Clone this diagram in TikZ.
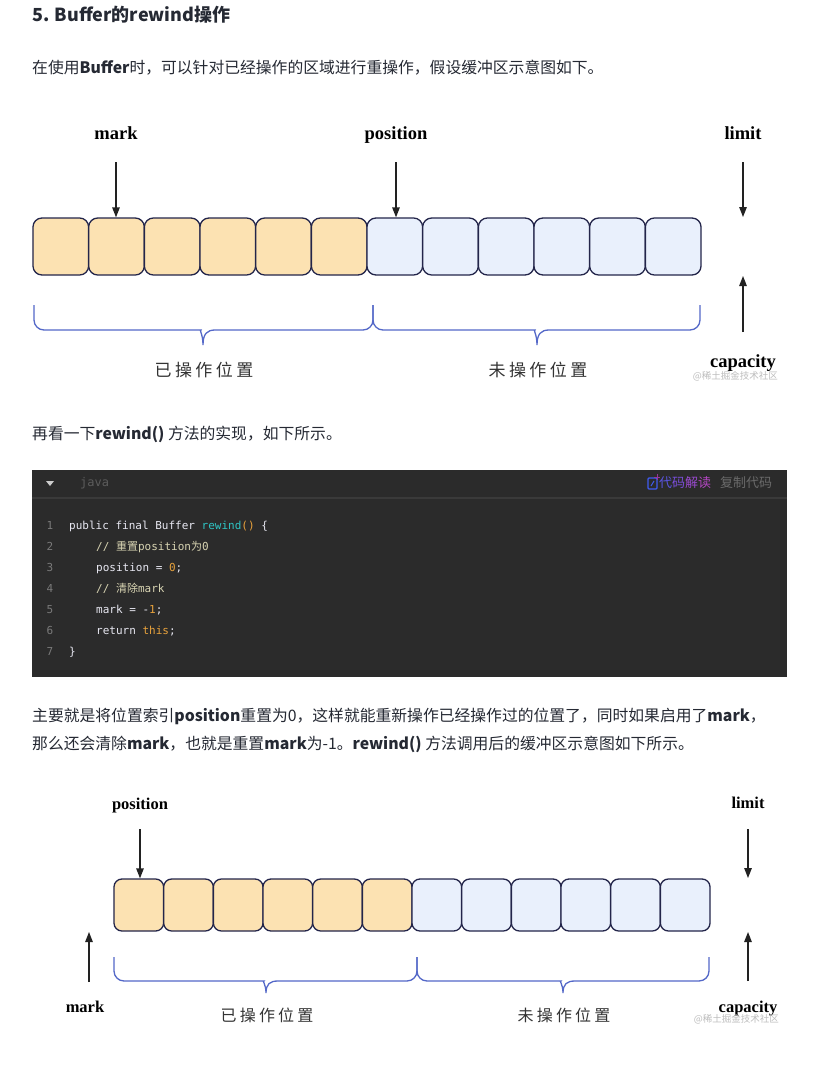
\documentclass[tikz,border=0pt]{standalone}
\usepackage{fontspec}
\setmainfont{Noto Sans CJK SC}
\newfontfamily\cjk{Noto Sans CJK SC}
\newfontfamily\tnr{Liberation Serif}
\newfontfamily\codett{DejaVu Sans Mono}
\newfontfamily\spaced[LetterSpace=20]{Noto Sans CJK SC}
\usetikzlibrary{arrows.meta}

\definecolor{ink}{HTML}{252933}
\definecolor{edge}{HTML}{23254A}
\definecolor{done}{HTML}{FCE2B2}
\definecolor{todo}{HTML}{E9F0FC}
\definecolor{bracec}{HTML}{5468C8}
\definecolor{arrowc}{HTML}{222222}
\definecolor{codebg}{HTML}{2B2B2B}
\definecolor{sepc}{HTML}{3A3A3A}
\definecolor{cTxt}{HTML}{E8E8F2}
\definecolor{cNo}{HTML}{7A7A7A}
\definecolor{cRew}{HTML}{2EC4C4}
\definecolor{cNum}{HTML}{E8A23C}
\definecolor{cCom}{HTML}{D8D4B2}
\definecolor{cHead}{HTML}{5C5C5C}
\definecolor{cCopy}{HTML}{6B6B6B}
\definecolor{cIcon}{HTML}{3F5BF0}
\definecolor{wm}{HTML}{BDBDBD}

\begin{document}
\begin{tikzpicture}[x=1pt,y=-1pt,
  para/.style={anchor=west,inner sep=0,text=ink,font=\fontsize{15.8}{20}\selectfont},
  cellA/.style={draw=edge,fill=done,rounded corners=9pt,line width=1.3pt,minimum width=55.67pt,minimum height=57pt,inner sep=0},
  cellB/.style={cellA,fill=todo},
  cellC/.style={draw=edge,fill=done,rounded corners=8pt,line width=1.3pt,minimum width=49.67pt,minimum height=52pt,inner sep=0},
  cellD/.style={cellC,fill=todo},
  tag/.style={anchor=base,inner sep=0,font=\tnr\bfseries\fontsize{18.5}{20}\selectfont},
  tagsm/.style={tag,font=\tnr\bfseries\fontsize{16.5}{18}\selectfont},
  zone/.style={inner sep=0,text=black!80,font=\spaced\fontsize{17}{20}\selectfont},
  zonesm/.style={zone,font=\spaced\fontsize{16}{18}\selectfont},
  ptr/.style={-{Triangle[length=10pt,width=7.5pt]},draw=arrowc,line width=1.3pt},
  bracket/.style={draw=bracec,line width=1.3pt},
  mark-wm/.style={anchor=east,inner sep=0,text=wm,font=\cjk\fontsize{9.5}{10}\selectfont},
  loc/.style={anchor=base west,inner sep=0,text=cTxt,font=\codett\fontsize{11}{13}\selectfont},
  lno/.style={anchor=base,inner sep=0,text=cNo,font=\codett\fontsize{11}{13}\selectfont}]
\useasboundingbox (0,0) rectangle (817,1074);
\fill[white] (0,0) rectangle (817,1074);

% text above the first figure
\node[para,font=\fontsize{18}{22}\selectfont\bfseries] (title) at (32,15) {5. Buffer的rewind操作};
\node[para] (p1) at (32,68) {在使用\textbf{Buffer}时，可以针对已经操作的区域进行重操作，假设缓冲区示意图如下。};

% first figure
\node[cellA] (a1) at (60.8,246.5) {};
\node[cellA] (a2) at (116.5,246.5) {};
\node[cellA] (a3) at (172.2,246.5) {};
\node[cellA] (a4) at (227.8,246.5) {};
\node[cellA] (a5) at (283.5,246.5) {};
\node[cellA] (a6) at (339.2,246.5) {};
\node[cellB] (a7) at (394.8,246.5) {};
\node[cellB] (a8) at (450.5,246.5) {};
\node[cellB] (a9) at (506.2,246.5) {};
\node[cellB] (a10) at (561.8,246.5) {};
\node[cellB] (a11) at (617.5,246.5) {};
\node[cellB] (a12) at (673.2,246.5) {};

\node[tag] (mark1) at (116,139) {mark};
\node[tag] (pos1) at (396,139) {position};
\node[tag] (lim1) at (743,139) {limit};
\node[tag] (cap1) at (743,367) {capacity};

\coordinate (m1) at (116,162);
\coordinate (q1) at (396,162);
\coordinate (l1) at (743,162);
\coordinate (l1e) at (743,217);
\coordinate (c1) at (743,332);
\coordinate (c1e) at (743,276);
\draw[ptr] (m1) -- (m1 |- a2.north);
\draw[ptr] (q1) -- (q1 |- a7.north);
\draw[ptr] (l1) -- (l1e);
\draw[ptr] (c1) -- (c1e);

\draw[bracket] (34,305) [rounded corners=10pt] -- (34,330) -- (191,330) [sharp corners] .. controls (199,330) and (203,334) .. (203,345) .. controls (203,334) and (207,330) .. (215,330) [rounded corners=10pt] -- (373,330) -- (373,305);
\draw[bracket] (373,305) [rounded corners=10pt] -- (373,330) -- (525,330) [sharp corners] .. controls (533,330) and (537,334) .. (537,345) .. controls (537,334) and (541,330) .. (549,330) [rounded corners=10pt] -- (700,330) -- (700,305);

\node[zone] (done1) at (204,370) {已操作位置};
\node[zone] (todo1) at (538,370) {未操作位置};
\node[mark-wm] (wm1) at (778,376) {@稀土掘金技术社区};

% code block
\node[para] (p2) at (32,434) {再看一下\textbf{rewind()} 方法的实现，如下所示。};
\fill[codebg] (32,470) rectangle (787,677);
\draw[sepc,line width=2pt] (32,498) -- (787,498);
\fill[black!20] (46,481) -- (54,481) -- (50,486) -- cycle;
\node[anchor=west,inner sep=0,text=cHead,font=\codett\fontsize{12}{14}\selectfont] (lang) at (80,483) {java};
\draw[cIcon,line width=1.3pt,rounded corners=1pt] (648,478) rectangle (657,489);
\draw[cIcon,line width=1pt] (651,486) -- (654,481);
\draw[violet!80,line width=1pt] (657,474) -- (657,480) (654,477) -- (660,477);
\node[anchor=west,inner sep=0,font=\cjk\fontsize{13}{14}\selectfont] (explain) at (659,483) {\color[HTML]{5A55E2}代\color[HTML]{7A4EDA}码\color[HTML]{9A4AD0}解\color[HTML]{B346C2}读};
\node[anchor=west,inner sep=0,text=cCopy,font=\cjk\fontsize{13}{14}\selectfont] (copy) at (720,483) {复制代码};

\node[lno] (n1) at (50,529) {1};
\node[lno] (n2) at (50,550) {2};
\node[lno] (n3) at (50,571) {3};
\node[lno] (n4) at (50,592) {4};
\node[lno] (n5) at (50,613) {5};
\node[lno] (n6) at (50,634) {6};
\node[lno] (n7) at (50,655) {7};
\node[loc] (k1) at (69,529) {public final Buffer \textcolor{cRew}{rewind}\textcolor{cNum}{()} \{};
\node[loc,text=cCom] (k2) at (96,550) {// {\cjk 重置}position{\cjk 为}0};
\node[loc] (k3) at (96,571) {position = \textcolor{cNum}{0};};
\node[loc,text=cCom] (k4) at (96,592) {// {\cjk 清除}mark};
\node[loc] (k5) at (96,613) {mark = -\textcolor{cNum}{1};};
\node[loc] (k6) at (96,634) {return \textcolor{cNum}{this};};
\node[loc] (k7) at (69,655) {\}};

% text above the second figure
\node[para] (p3) at (32,716) {主要就是将位置索引\textbf{position}重置为0，这样就能重新操作已经操作过的位置了，同时如果启用了\textbf{mark}，};
\node[para] (p4) at (32,744) {那么还会清除\textbf{mark}，也就是重置\textbf{mark}为-1。\textbf{rewind()} 方法调用后的缓冲区示意图如下所示。};

% second figure
\node[cellC] (b1) at (138.8,905) {};
\node[cellC] (b2) at (188.5,905) {};
\node[cellC] (b3) at (238.2,905) {};
\node[cellC] (b4) at (287.8,905) {};
\node[cellC] (b5) at (337.5,905) {};
\node[cellC] (b6) at (387.2,905) {};
\node[cellD] (b7) at (436.8,905) {};
\node[cellD] (b8) at (486.5,905) {};
\node[cellD] (b9) at (536.2,905) {};
\node[cellD] (b10) at (585.8,905) {};
\node[cellD] (b11) at (635.5,905) {};
\node[cellD] (b12) at (685.2,905) {};

\node[tagsm] (pos2) at (140,809) {position};
\node[tagsm] (lim2) at (748,808) {limit};
\node[tagsm] (mark2) at (85,1012) {mark};
\node[tagsm] (cap2) at (748,1012) {capacity};

\coordinate (q2) at (140,829);
\coordinate (l2) at (748,829);
\coordinate (l2e) at (748,878);
\coordinate (m2) at (89,982);
\coordinate (m2e) at (89,932);
\coordinate (c2) at (748,981);
\coordinate (c2e) at (748,932);
\draw[ptr] (q2) -- (q2 |- b1.north);
\draw[ptr] (l2) -- (l2e);
\draw[ptr] (m2) -- (m2e);
\draw[ptr] (c2) -- (c2e);

\draw[bracket] (114,957) [rounded corners=10pt] -- (114,981) -- (254,981) [sharp corners] .. controls (262,981) and (266,984) .. (266,993) .. controls (266,984) and (270,981) .. (278,981) [rounded corners=10pt] -- (417,981) -- (417,957);
\draw[bracket] (417,957) [rounded corners=10pt] -- (417,981) -- (551,981) [sharp corners] .. controls (559,981) and (563,984) .. (563,993) .. controls (563,984) and (567,981) .. (575,981) [rounded corners=10pt] -- (709,981) -- (709,957);

\node[zonesm] (done2) at (267,1015) {已操作位置};
\node[zonesm] (todo2) at (564,1015) {未操作位置};
\node[mark-wm] (wm2) at (779,1019) {@稀土掘金技术社区};
\end{tikzpicture}
\end{document}
